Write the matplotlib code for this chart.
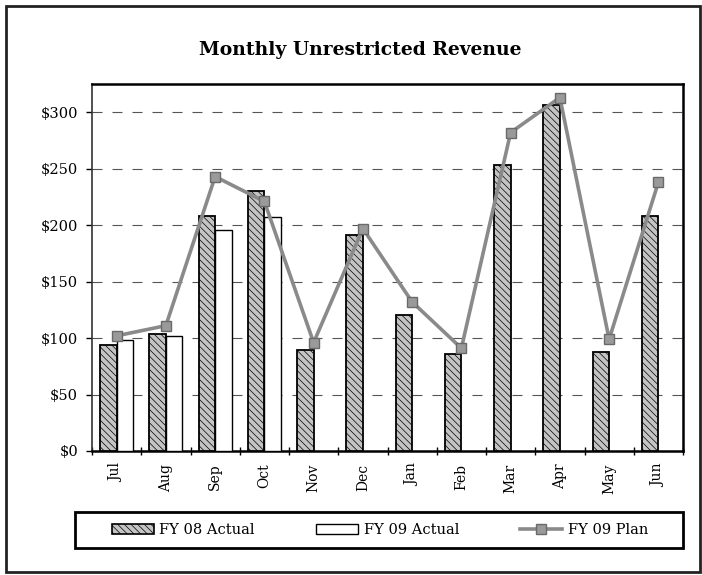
import numpy as np
import matplotlib
matplotlib.use("Agg")
import matplotlib.pyplot as plt
from matplotlib.patches import Rectangle, Patch
from matplotlib.lines import Line2D

months = ["Jul", "Aug", "Sep", "Oct", "Nov", "Dec", "Jan", "Feb", "Mar", "Apr", "May", "Jun"]
fy08_actual = [94, 104, 208, 230, 89, 191, 120, 86, 253, 306, 88, 208]
fy09_actual = [98, 102, 196, 207, None, None, None, None, None, None, None, None]
fy09_plan = [102, 111, 243, 221, 96, 197, 132, 91, 282, 313, 99, 238]
yticks = [0, 50, 100, 150, 200, 250, 300]
ytick_labels = ["$0", "$50", "$100", "$150", "$200", "$250", "$300"]
series_names = ["FY 08 Actual", "FY 09 Actual", "FY 09 Plan"]
title = "Monthly Unrestricted Revenue"

plt.rcParams["font.family"] = ["DejaVu Serif"]
plt.rcParams["hatch.color"] = "#8f8f8f"
plt.rcParams["hatch.linewidth"] = 0.5

W, H = 702, 575
fig = plt.figure(figsize=(W / 100, H / 100), dpi=100)
fig.patch.set_facecolor("white")

ax = fig.add_axes([92 / W, 1 - 451 / H, (683 - 92) / W, (451 - 84) / H])

x = np.arange(len(months))
bw = 1 / 3
fy09_vals = np.array([np.nan if v is None else v for v in fy09_actual], dtype=float)

fy08_face = "#c4c4c4"
fy08_hatch = "\\\\\\\\\\"
ax.bar(x - bw / 2, fy08_actual, width=bw, facecolor=fy08_face, edgecolor="black",
       linewidth=1.3, hatch=fy08_hatch, zorder=3)
ax.bar(x + bw / 2, fy09_vals, width=bw, facecolor="white", edgecolor="black",
       linewidth=1.0, zorder=3)
ax.plot(x, fy09_plan, color="#8a8a8a", linewidth=2.6, marker="s", markersize=7,
        markerfacecolor="#9a9a9a", markeredgecolor="#6a6a6a", markeredgewidth=1.0, zorder=4)

ax.set_xlim(-0.5, len(months) - 0.5)
ax.set_ylim(0, 325)

for yv in yticks[1:]:
    ax.axhline(yv, color="#555555", linewidth=0.8, linestyle=(0, (9, 9)), zorder=1)

ax.set_yticks(yticks)
ax.set_yticklabels(ytick_labels, fontsize=10.5)
ax.tick_params(axis="y", direction="out", length=4, width=1, pad=6)

ax.set_xticks(x)
ax.set_xticklabels(months, rotation=90, fontsize=10)
ax.set_xticks(np.arange(len(months) + 1) - 0.5, minor=True)
ax.tick_params(axis="x", which="major", length=0, pad=9)
ax.tick_params(axis="x", which="minor", direction="inout", length=6, width=1)

for side in ["top", "right", "bottom"]:
    ax.spines[side].set_linewidth(1.8)
    ax.spines[side].set_color("black")
ax.spines["left"].set_linewidth(1.2)
ax.spines["left"].set_color("#333333")

fig.text(360 / W, 1 - 50 / H, title, ha="center", va="center",
         fontsize=13.5, fontweight="bold")

handles = [
    Patch(facecolor=fy08_face, edgecolor="black", hatch=fy08_hatch, linewidth=1.2),
    Patch(facecolor="white", edgecolor="black", linewidth=1.0),
    Line2D([0], [0], color="#8a8a8a", linewidth=2.6, marker="s", markersize=7,
           markerfacecolor="#9a9a9a", markeredgecolor="#6a6a6a"),
]
leg = fig.legend(handles, series_names, loc="center",
                 bbox_to_anchor=(380 / W, 1 - 530 / H),
                 ncol=3, fontsize=10.5, frameon=False,
                 handlelength=2.9, handleheight=0.75, handletextpad=0.35,
                 columnspacing=4.2, borderpad=0.0, borderaxespad=0.0)

fig.add_artist(Rectangle((75 / W, 1 - 548 / H), 608 / W, 36 / H, transform=fig.transFigure,
                         fill=False, edgecolor="black", linewidth=2.0))

fig.add_artist(Rectangle((6 / W, 1 - 572 / H), 694 / W, 566 / H, transform=fig.transFigure,
                         fill=False, edgecolor="#222222", linewidth=2.0))

fig.savefig("out.png", dpi=100)
